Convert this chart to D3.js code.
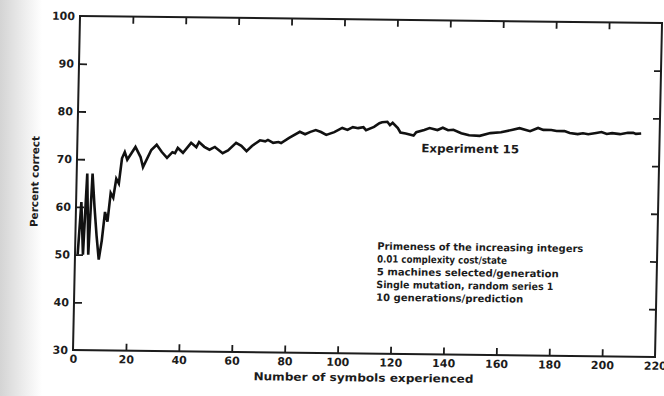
<!DOCTYPE html>
<html>
<head>
<meta charset="utf-8">
<script src="https://cdn.jsdelivr.net/npm/d3@7"></script>
<style>
  html, body { margin: 0; padding: 0; background: #fff; }
  svg { display: block; }
</style>
</head>
<body>
<div id="chart"></div>
<script>
// Experiment 15 — percent correct vs number of symbols experienced
// values

const symbols = [1, 2, 3, 4, 5, 6, 7, 8, 9, 10, 11, 12, 13, 14, 15, 16, 17, 18, 19, 22,
  24, 25, 28, 30, 32, 34, 36, 37, 38, 40, 43, 45, 46, 48, 50, 52, 55, 57, 60, 62,
  64, 66, 69, 71, 72, 74, 76, 77, 80, 84, 86, 88, 90, 92, 94, 97, 100, 102, 104, 106,
  108, 109, 112, 114, 115, 117, 118, 119, 121, 122, 124, 127, 128, 131, 133, 136, 138, 140, 142, 145,
  148, 152, 156, 160, 164, 167, 171, 174, 176, 179, 181, 184, 186, 189, 191, 193, 196, 198, 200, 202,
  205, 208, 210, 211, 213];

const percent = [50, 61, 50, 67, 50, 67, 60, 54, 49, 53, 59, 57, 63, 62, 66, 65, 70.3, 71.6, 70, 72.7,
  70.6, 68.5, 72.1, 73.2, 71.7, 70.5, 71.7, 71.5, 72.6, 71.6, 73.7, 72.8, 73.9, 72.9, 72.3, 72.9, 71.6, 72.2, 73.8, 73.2,
  72.1, 73.2, 74.4, 74.2, 74.5, 73.9, 74.1, 73.9, 75, 76.3, 75.8, 76.3, 76.7, 76.3, 75.7, 76.3, 77.2, 76.8, 77.4, 77.2,
  77.4, 76.8, 77.5, 78.3, 78.5, 78.6, 77.9, 78.4, 77.3, 76.4, 76.2, 75.8, 76.5, 77, 77.4, 77, 77.5, 77, 77.1, 76.4,
  76, 75.9, 76.5, 76.7, 77.2, 77.6, 77, 77.7, 77.3, 77.3, 77.1, 77.1, 76.7, 76.5, 76.7, 76.5, 76.8, 77, 76.6, 76.8,
  76.6, 76.9, 76.9, 76.7, 76.8];

const xTicks = [0, 20, 40, 60, 80, 100, 120, 140, 160, 180, 200, 220];
const yTicks = [30, 40, 50, 60, 70, 80, 90, 100];

const notes = [
  'Primeness of the increasing integers',
  '0.01 complexity cost/state',
  '5 machines selected/generation',
  'Single mutation, random series 1',
  '10 generations/prediction'
];
const noteWidths = [206, 130, 182, 177, 147];

const W = 664, H = 396;
const L = 73, R = 655, T = 16, B = 350;

const svg = d3.select('#chart').append('svg')
  .attr('width', W)
  .attr('height', H);

// scanned paper: greyish strip on the left edge
const grad = svg.append('defs').append('linearGradient')
  .attr('id', 'paper').attr('x1', 0).attr('x2', 1);
grad.append('stop').attr('offset', '0%').attr('stop-color', '#d4d4d4');
grad.append('stop').attr('offset', '55%').attr('stop-color', '#ececec');
grad.append('stop').attr('offset', '100%').attr('stop-color', '#fff');
svg.append('rect').attr('width', W).attr('height', H).attr('fill', '#fff');
svg.append('rect').attr('width', 42).attr('height', H).attr('fill', 'url(#paper)');

// the page was scanned slightly skewed
const g = svg.append('g')
  .attr('transform', `translate(${L},${B}) matrix(1,0.012,-0.021,1,0,0) translate(${-L},${-B})`);

const x = d3.scaleLinear().domain([0, 220]).range([L, R]);
const y = d3.scaleLinear().domain([30, 100]).range([B, T]);

const ink = '#1c1c1c';
const font = 'DejaVu Sans, sans-serif';

// axes, ticks pointing inward
const axBottom = g.append('g').attr('transform', `translate(0,${B})`)
  .call(d3.axisBottom(x).tickValues(xTicks).tickSize(-7).tickSizeOuter(0).tickPadding(5));
const axLeft = g.append('g').attr('transform', `translate(${L},0)`)
  .call(d3.axisLeft(y).tickValues(yTicks).tickSize(-8).tickSizeOuter(0).tickPadding(5));
const axTop = g.append('g').attr('transform', `translate(0,${T})`)
  .call(d3.axisTop(x).tickValues(xTicks.slice(1, -1)).tickSize(-7).tickSizeOuter(0).tickFormat(''));
const axRight = g.append('g').attr('transform', `translate(${R},0)`)
  .call(d3.axisRight(y).tickValues(yTicks.slice(1, -1)).tickSize(-7).tickSizeOuter(0).tickFormat(''));

[axBottom, axLeft, axTop, axRight].forEach(a => {
  a.select('.domain').remove();
  a.selectAll('line').attr('stroke', ink).attr('stroke-width', 1.8);
  a.selectAll('text').attr('fill', ink).attr('font-family', font)
    .attr('font-size', 11).attr('font-weight', 'bold');
});
axBottom.selectAll('line').filter(d => d === 0 || d === 220).remove();
axLeft.selectAll('line').filter(d => d === 30 || d === 100).remove();

g.append('rect')
  .attr('x', L).attr('y', T)
  .attr('width', R - L).attr('height', B - T)
  .attr('fill', 'none')
  .attr('stroke', ink)
  .attr('stroke-width', 2);

// data line
const line = d3.line()
  .x(d => x(d))
  .y((d, i) => y(percent[i]));

g.append('path')
  .datum(symbols)
  .attr('d', line)
  .attr('fill', 'none')
  .attr('stroke', '#111')
  .attr('stroke-width', 2.6)
  .attr('stroke-linejoin', 'miter');

// axis titles
g.append('text')
  .attr('x', (L + R) / 2).attr('y', 378)
  .attr('text-anchor', 'middle')
  .attr('font-family', font).attr('font-size', 11).attr('font-weight', 'bold')
  .attr('fill', ink)
  .attr('textLength', 220).attr('lengthAdjust', 'spacingAndGlyphs')
  .text('Number of symbols experienced');

g.append('text')
  .attr('transform', 'translate(35,182) rotate(-90)')
  .attr('text-anchor', 'middle')
  .attr('font-family', font).attr('font-size', 10.5).attr('font-weight', 'bold')
  .attr('fill', ink)
  .attr('textLength', 91).attr('lengthAdjust', 'spacingAndGlyphs')
  .text('Percent correct');

// labels inside the plot
g.append('text')
  .attr('x', x(130)).attr('y', y(72.3))
  .attr('font-family', font).attr('font-size', 11.5).attr('font-weight', 'bold')
  .attr('fill', ink)
  .attr('textLength', 98).attr('lengthAdjust', 'spacingAndGlyphs')
  .text('Experiment 15');

g.append('g')
  .selectAll('text')
  .data(notes)
  .join('text')
  .attr('x', 375)
  .attr('y', (d, i) => 246 + i * 12.8)
  .attr('font-family', 'DejaVu Sans Condensed, DejaVu Sans, sans-serif')
  .attr('font-size', 10)
  .attr('font-weight', 'bold')
  .attr('fill', ink)
  .attr('textLength', (d, i) => noteWidths[i])
  .attr('lengthAdjust', 'spacingAndGlyphs')
  .text(d => d);
</script>
</body>
</html>
